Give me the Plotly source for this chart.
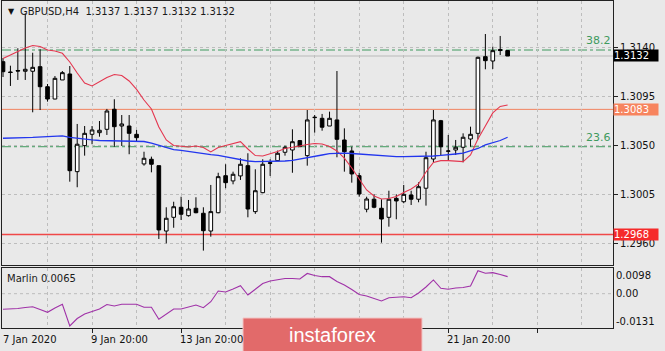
import plotly.graph_objects as go

W, H = 665, 351

# ---------------- data ----------------
bars = list(range(69))
opens = [1.31268, 1.31173, 1.31187, 1.31180, 1.31180, 1.31222, 1.31038, 1.30925, 1.31100, 1.31155,
         1.30258, 1.30497, 1.30601, 1.30616, 1.30647, 1.30831, 1.30677, 1.30677, 1.30601, 1.30329,
         1.30372, 1.30313, 1.29713, 1.29839, 1.29931, 1.29854, 1.29922, 1.29876, 1.29713, 1.29881,
         1.30221, 1.30173, 1.30219, 1.30313, 1.29891, 1.30065, 1.30340, 1.30359, 1.30436, 1.30457,
         1.30543, 1.30405, 1.30754, 1.30748, 1.30677, 1.30733, 1.30549, 1.30448, 1.30221, 1.29913,
         1.30005, 1.29922, 1.29839, 1.30013, 1.29982, 1.30044, 1.30005, 1.30106, 1.30374, 1.30726,
         1.30445, 1.30457, 1.30482, 1.30558, 1.30610, 1.31314, 1.31274, 1.31380, 1.31370]
highs = [1.31302, 1.31231, 1.31391, 1.31712, 1.31350, 1.31382, 1.31063, 1.31136, 1.31182, 1.31228,
         1.30696, 1.30677, 1.30677, 1.30723, 1.30834, 1.30923, 1.30778, 1.30778, 1.30641, 1.30441,
         1.30396, 1.30313, 1.29931, 1.29982, 1.30028, 1.29998, 1.30023, 1.29931, 1.30136, 1.30248,
         1.30326, 1.30258, 1.30381, 1.30427, 1.30280, 1.30372, 1.30372, 1.30451, 1.30497, 1.30647,
         1.30549, 1.30824, 1.30778, 1.30788, 1.30809, 1.31182, 1.30656, 1.30487, 1.30248, 1.30028,
         1.30050, 1.30005, 1.30083, 1.30050, 1.30136, 1.30083, 1.30160, 1.30441, 1.30824, 1.30733,
         1.30595, 1.30549, 1.30610, 1.30671, 1.31314, 1.31522, 1.31406, 1.31504, 1.31370]
lows = [1.31127, 1.31045, 1.31100, 1.31100, 1.30803, 1.30824, 1.30901, 1.30923, 1.31100, 1.30166,
        1.30115, 1.30405, 1.30510, 1.30579, 1.30595, 1.30487, 1.30494, 1.30418, 1.30533, 1.30313,
        1.30252, 1.29640, 1.29600, 1.29743, 1.29814, 1.29845, 1.29876, 1.29533, 1.29661, 1.29876,
        1.30106, 1.30142, 1.30182, 1.29839, 1.29870, 1.30060, 1.30219, 1.30356, 1.30405, 1.30248,
        1.30487, 1.30313, 1.30616, 1.30634, 1.30677, 1.30390, 1.30258, 1.30157, 1.30028, 1.29885,
        1.29922, 1.29606, 1.29753, 1.29821, 1.29968, 1.29952, 1.29977, 1.29946, 1.30344, 1.30411,
        1.30365, 1.30411, 1.30344, 1.30487, 1.30555, 1.31198, 1.31201, 1.31329, 1.31320]
closes = [1.31176, 1.31169, 1.31182, 1.31198, 1.31216, 1.31038, 1.30925, 1.31115, 1.31167, 1.30267,
          1.30510, 1.30610, 1.30641, 1.30638, 1.30815, 1.30671, 1.30696, 1.30610, 1.30570, 1.30381,
          1.30326, 1.29723, 1.29830, 1.29936, 1.29867, 1.29915, 1.29881, 1.29716, 1.29891, 1.30212,
          1.30157, 1.30234, 1.30326, 1.29915, 1.30083, 1.30326, 1.30335, 1.30427, 1.30482, 1.30533,
          1.30487, 1.30733, 1.30757, 1.30666, 1.30748, 1.30555, 1.30441, 1.30237, 1.30053, 1.30007,
          1.29931, 1.29823, 1.30005, 1.29989, 1.30050, 1.30005, 1.30120, 1.30386, 1.30733, 1.30487,
          1.30448, 1.30482, 1.30574, 1.30601, 1.31308, 1.31277, 1.31369, 1.31370, 1.31320]
red_ma = [1.31297, 1.31329, 1.31357, 1.31394, 1.31417, 1.31407, 1.31375, 1.31366, 1.31345, 1.31265,
          1.31164, 1.31072, 1.31045, 1.31081, 1.31123, 1.31150, 1.31141, 1.31091, 1.31013, 1.30916,
          1.30834, 1.30668, 1.30549, 1.30498, 1.30489, 1.30485, 1.30494, 1.30480, 1.30439, 1.30480,
          1.30498, 1.30517, 1.30533, 1.30466, 1.30406, 1.30402, 1.30420, 1.30443, 1.30471, 1.30480,
          1.30494, 1.30507, 1.30517, 1.30512, 1.30489, 1.30448, 1.30383, 1.30292, 1.30191, 1.30090,
          1.30035, 1.30007, 1.30012, 1.30030, 1.30067, 1.30099, 1.30145, 1.30255, 1.30342, 1.30359,
          1.30359, 1.30356, 1.30350, 1.30411, 1.30558, 1.30677, 1.30797, 1.30857, 1.30870]
blue_ma = [1.30565, 1.30565, 1.30565, 1.30570, 1.30572, 1.30575, 1.30579, 1.30584, 1.30586, 1.30572,
           1.30563, 1.30555, 1.30549, 1.30544, 1.30543, 1.30543, 1.30543, 1.30543, 1.30540, 1.30535,
           1.30521, 1.30503, 1.30480, 1.30460, 1.30453, 1.30442, 1.30432, 1.30420, 1.30414, 1.30407,
           1.30393, 1.30384, 1.30370, 1.30356, 1.30350, 1.30350, 1.30350, 1.30352, 1.30356, 1.30361,
           1.30375, 1.30387, 1.30398, 1.30411, 1.30423, 1.30428, 1.30428, 1.30425, 1.30420, 1.30411,
           1.30405, 1.30402, 1.30400, 1.30396, 1.30396, 1.30396, 1.30396, 1.30398, 1.30402, 1.30407,
           1.30411, 1.30420, 1.30428, 1.30446, 1.30471, 1.30503, 1.30521, 1.30544, 1.30574]
marlin = [-0.00596, -0.00584, -0.00565, -0.00527, -0.00497, -0.00604, -0.00711, -0.00546, -0.00405, -0.01234,
          -0.00947, -0.00775, -0.00680, -0.00584, -0.00413, -0.00470, -0.00405, -0.00405, -0.00405, -0.00520,
          -0.00520, -0.00978, -0.00775, -0.00584, -0.00584, -0.00508, -0.00432, -0.00535, -0.00306, 0.00103,
          0.00065, 0.00180, 0.00306, -0.00050, 0.00180, 0.00390, 0.00485, 0.00542, 0.00581, 0.00581,
          0.00562, 0.00772, 0.00695, 0.00649, 0.00649, 0.00466, 0.00332, 0.00160, -0.00031, -0.00088,
          -0.00183, -0.00279, -0.00153, -0.00126, -0.00115, -0.00153, 0.00027, 0.00256, 0.00523, 0.00206,
          0.00168, 0.00218, 0.00237, 0.00294, 0.00879, 0.00779, 0.00802, 0.00733, 0.00650]

price_ticks = [1.2960, 1.3005, 1.3050, 1.3095, 1.3140]
price_range = [1.29401, 1.31825]
marlin_range = [-0.0131, 0.0098]
marlin_tick_vals = [0.00675, 0.0, -0.0107]
marlin_tick_text = ["0.0098", "0.00", "-0.0131"]
time_labels = ["7 Jan 2020", "9 Jan 20:00", "13 Jan 20:00", "21 Jan 20:00"]
time_label_bars = [0, 12, 24, 60]
bid_price = 1.3132
resist_level = 1.3083
support_level = 1.2968
fibo_levels = [1.31375, 1.30487]
fibo_texts = ["38.2", "23.6"]
header_text = "GBPUSD,H4  1.3137 1.3137 1.3132 1.3132"
marlin_title = "Marlin 0.0065"

# ---------------- layout helpers ----------------
FONT = "DejaVu Sans"
BG = "#E9E9E9"
GRID = "#BDBDBD"

def fx(px):
    return px / W

def fy(px):
    return 1 - px / H

xdom = [fx(2), fx(613)]
main_dom = [fy(265), fy(1)]
sub_dom = [fy(328), fy(268)]

fig = go.Figure()

fig.add_trace(go.Candlestick(
    x=bars, open=opens, high=highs, low=lows, close=closes,
    increasing=dict(line=dict(color="black", width=1), fillcolor="white"),
    decreasing=dict(line=dict(color="black", width=1), fillcolor="black"),
    whiskerwidth=0, xaxis="x", yaxis="y", showlegend=False, hoverinfo="skip"))

fig.add_trace(go.Scatter(x=bars, y=red_ma, mode="lines",
                         line=dict(color="#E4364F", width=1.1),
                         xaxis="x", yaxis="y", showlegend=False, hoverinfo="skip"))
fig.add_trace(go.Scatter(x=bars, y=blue_ma, mode="lines",
                         line=dict(color="#2236EE", width=1.3),
                         xaxis="x", yaxis="y", showlegend=False, hoverinfo="skip"))
fig.add_trace(go.Scatter(x=bars, y=marlin, mode="lines",
                         line=dict(color="#A032A8", width=1.1),
                         xaxis="x2", yaxis="y2", showlegend=False, hoverinfo="skip"))

grid_minor = [b for b in range(6, 83, 6) if b % 12 != 0]
grid_major = [b for b in range(12, 83, 12)]

common_x = dict(domain=xdom, range=[-0.135, 82.2], showline=True, mirror=True,
                linecolor="#222", linewidth=1, zeroline=False,
                tickvals=grid_major, showgrid=True, gridcolor=GRID, griddash="3px,3px", gridwidth=1,
                minor=dict(tickvals=grid_minor, showgrid=True, gridcolor=GRID,
                           griddash="3px,3px", gridwidth=1, ticks=""),
                fixedrange=True)

fig.update_layout(
    width=W, height=H, margin=dict(l=0, r=0, t=0, b=0),
    paper_bgcolor=BG, plot_bgcolor=BG,
    font=dict(family=FONT, size=10, color="#111"),
    xaxis=dict(**common_x, anchor="y", showticklabels=False, ticks="",
               rangeslider=dict(visible=False)),
    xaxis2=dict(**common_x, anchor="y2", matches="x", showticklabels=False,
                ticks="outside", ticklen=4, tickcolor="#222"),
    yaxis=dict(domain=main_dom, range=price_range, side="right", anchor="x",
               tickvals=price_ticks, ticktext=[f"{v:.4f}" for v in price_ticks],
               ticks="outside", ticklen=4, tickcolor="#222",
               showline=True, mirror=True, linecolor="#222", linewidth=1,
               showgrid=True, gridcolor=GRID, griddash="3px,3px", zeroline=False,
               tickfont=dict(family=FONT, size=10, color="#111"), fixedrange=True),
    yaxis2=dict(domain=sub_dom, range=marlin_range, side="right", anchor="x2",
                tickvals=marlin_tick_vals, ticktext=marlin_tick_text, ticks="",
                showline=True, mirror=True, linecolor="#222", linewidth=1,
                showgrid=False, zeroline=False,
                tickfont=dict(family=FONT, size=10, color="#111"), fixedrange=True),
)

shapes = []
# marlin zero grid line
shapes.append(dict(type="line", xref="x2 domain", yref="y2", x0=0, x1=1, y0=0, y1=0,
                   line=dict(color=GRID, width=1, dash="3px,3px"), layer="below"))
# bid line
shapes.append(dict(type="line", xref="x domain", yref="y", x0=0, x1=1, y0=bid_price, y1=bid_price,
                   line=dict(color="#C9C9C9", width=1.5), layer="below"))
# fibo levels
for lv in fibo_levels:
    shapes.append(dict(type="line", xref="x domain", yref="y", x0=0, x1=1, y0=lv, y1=lv,
                       line=dict(color="#3F9A5E", width=1, dash="dashdot"), layer="below"))
# horizontal levels
shapes.append(dict(type="line", xref="x domain", yref="y", x0=0, x1=1, y0=resist_level, y1=resist_level,
                   line=dict(color="#F2845F", width=1), layer="below"))
shapes.append(dict(type="line", xref="x domain", yref="y", x0=0, x1=1, y0=support_level, y1=support_level,
                   line=dict(color="#F04848", width=1.5), layer="below"))
# logo box
shapes.append(dict(type="rect", xref="paper", yref="paper", x0=fx(243), x1=fx(422), y0=fy(352), y1=fy(318),
                   fillcolor="#E26A6A", line=dict(color="#F2C4C4", width=1), layer="above"))

annotations = []
# header
annotations.append(dict(xref="paper", yref="paper", x=fx(6), y=fy(12), xanchor="left", yanchor="middle",
                        text="▼", showarrow=False, font=dict(family=FONT, size=8, color="#111")))
annotations.append(dict(xref="paper", yref="paper", x=fx(18), y=fy(12), xanchor="left", yanchor="middle",
                        text=header_text, showarrow=False, font=dict(family=FONT, size=10, color="#1a1a1a")))
# marlin title
annotations.append(dict(xref="paper", yref="paper", x=fx(5), y=fy(278), xanchor="left", yanchor="middle",
                        text=marlin_title, showarrow=False, font=dict(family=FONT, size=10, color="#1a1a1a")))
# fibo texts
for lv, t in zip(fibo_levels, fibo_texts):
    annotations.append(dict(xref="paper", yref="y", x=fx(613), y=lv, xanchor="right", yanchor="bottom",
                            text=t, showarrow=False, yshift=1,
                            font=dict(family=FONT, size=11, color="#3F9A5E")))
# price boxes
for val, bg in [(bid_price, "#000000"), (resist_level, "#F7845E"), (support_level, "#F52A2A")]:
    annotations.append(dict(xref="paper", yref="y", x=fx(613), y=val, xanchor="left", yanchor="middle",
                            text=f"{val:.4f}", showarrow=False, bgcolor=bg, width=44, height=11,
                            align="left", borderpad=0,
                            font=dict(family=FONT, size=10, color="white")))
# time labels
for lab, b in zip(time_labels, time_label_bars):
    if b == 0:
        annotations.append(dict(xref="paper", yref="paper", x=fx(1), y=fy(339), xanchor="left",
                                yanchor="middle", text=lab, showarrow=False,
                                font=dict(family=FONT, size=10, color="#111")))
    else:
        annotations.append(dict(xref="x2", yref="paper", x=b, y=fy(339), xanchor="left",
                                yanchor="middle", text=lab, showarrow=False, xshift=-3,
                                font=dict(family=FONT, size=10, color="#111")))
# logo text
annotations.append(dict(xref="paper", yref="paper", x=fx(332), y=fy(335), xanchor="center", yanchor="middle",
                        text="instaforex", showarrow=False,
                        font=dict(family="Liberation Sans", size=20, color="white")))

fig.update_layout(shapes=shapes, annotations=annotations)

fig.write_html("out.html")
